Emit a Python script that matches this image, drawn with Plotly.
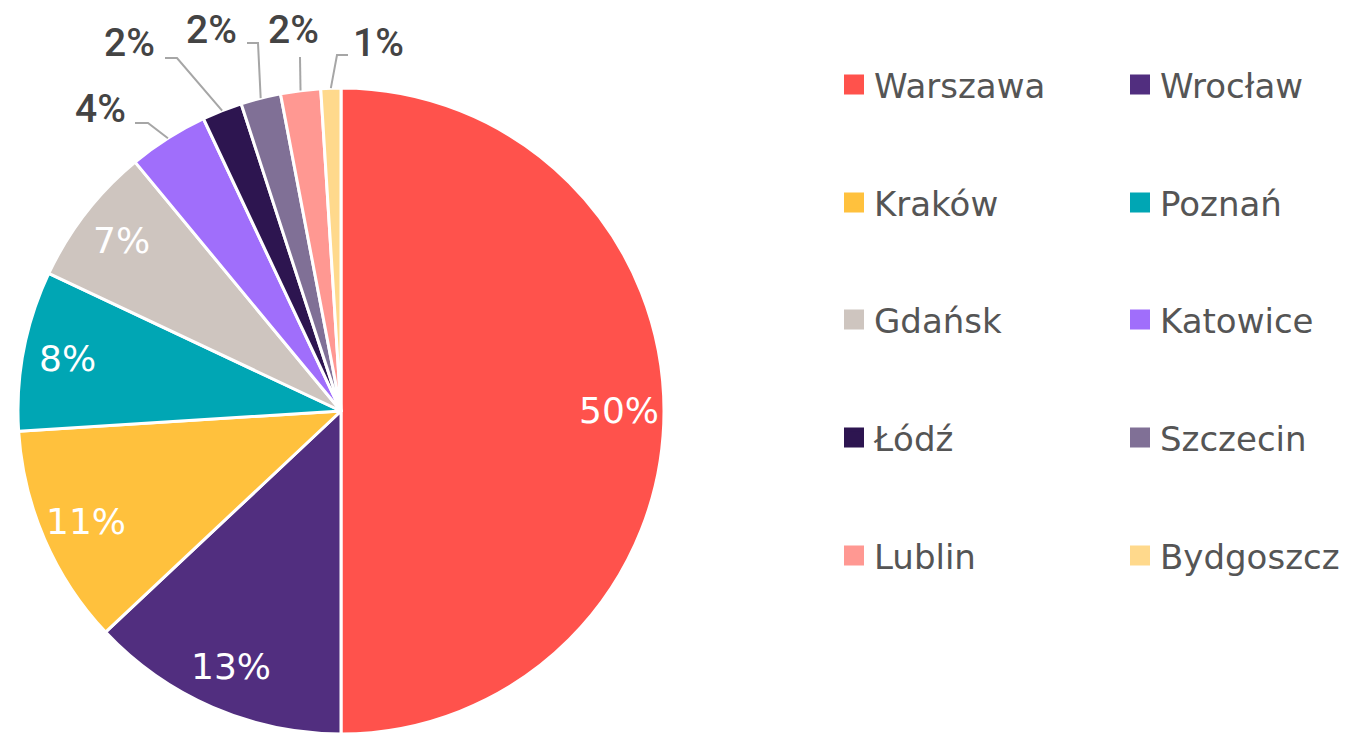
import math
import plotly.graph_objects as go

# ---- data ----
cities = ["Warszawa", "Wrocław", "Kraków", "Poznań", "Gdańsk",
          "Katowice", "Łódź", "Szczecin", "Lublin", "Bydgoszcz"]
shares = [50, 13, 11, 8, 7, 4, 2, 2, 2, 1]
colors = ["#FF524C", "#512E7F", "#FFC13D", "#00A6B4", "#CEC5BF",
          "#A06EFB", "#2D1550", "#807096", "#FF9892", "#FFD98C"]

# ---- layout constants (page pixel coordinates) ----
W, H = 1348, 734
PAGE_OFF = 8  # default body margin of the html page
PIE_LEFT, PIE_TOP, PIE_SIZE = 18, 88, 646
CX = PIE_LEFT + PIE_SIZE / 2
CY = PIE_TOP + PIE_SIZE / 2
R = PIE_SIZE / 2
INSIDE_R = R - 45
INSIDE_MIN = 5  # slices below this share get outside labels

# outside label placement (page pixel positions of connector elbow, end, and text anchor)
outside_layout = {
    "Katowice": dict(elbow=(148, 123), end=(135, 123), text=(128, 109), side="right"),
    "Łódź": dict(elbow=(177, 58), end=(165, 58), text=(157, 43), side="right"),
    "Szczecin": dict(elbow=(258, 43), end=(247, 43), text=(239, 30), side="right"),
    "Lublin": dict(elbow=(300, 57), end=(300, 57), text=(293, 30), side="center"),
    "Bydgoszcz": dict(elbow=(337, 55), end=(348, 55), text=(351, 43), side="left"),
}
legend_rows_y = [86, 204, 321, 439, 557]
legend_cols_x = [834, 1120]
LEGEND_Y_FIX = -1


def px(x):
    return (x - PAGE_OFF) / W


def py(y):
    return 1 - (y - PAGE_OFF) / H


fig = go.Figure()
fig.add_trace(go.Pie(
    labels=cities, values=shares, sort=False, direction="clockwise", rotation=0,
    marker=dict(colors=colors, line=dict(color="white", width=3)),
    textinfo="none", showlegend=False,
    domain=dict(x=[px(PIE_LEFT), px(PIE_LEFT + PIE_SIZE)],
                y=[py(PIE_TOP + PIE_SIZE), py(PIE_TOP)]),
))

total = sum(shares)
annotations = []
shapes = []
cum = 0
for city, v in zip(cities, shares):
    mid = (cum + v / 2) / total * 2 * math.pi
    cum += v
    s, c = math.sin(mid), math.cos(mid)
    label = f"{round(v / total * 100)}%"
    if v >= INSIDE_MIN:
        x = CX + INSIDE_R * s
        y = CY - INSIDE_R * c
        annotations.append(dict(
            x=px(x), y=py(y), xref="paper", yref="paper", text=label, showarrow=False,
            xanchor="center", yanchor="middle",
            font=dict(family="DejaVu Sans", size=36, color="white")))
    else:
        lay = outside_layout[city]
        ex, ey = CX + R * s, CY - R * c
        (bx, by), (nx, ny) = lay["elbow"], lay["end"]
        path = f"M {px(ex)} {py(ey)} L {px(bx)} {py(by)} L {px(nx)} {py(ny)}"
        shapes.append(dict(type="path", xref="paper", yref="paper", path=path,
                           line=dict(color="#A6A6A6", width=2)))
        tx, ty = lay["text"]
        annotations.append(dict(
            x=px(tx), y=py(ty), xref="paper", yref="paper", text=label, showarrow=False,
            xanchor=lay["side"], yanchor="middle",
            font=dict(family="Roboto", size=39, color="#444444", weight=500)))

# legend: one dummy marker trace per city, each in its own legend box
legend_layouts = {}
for i, (city, col) in enumerate(zip(cities, colors)):
    row, colidx = i // 2, i % 2
    key = "legend" if i == 0 else f"legend{i + 1}"
    fig.add_trace(go.Scatter(
        x=[None], y=[None], mode="markers", name=city, legend=key,
        marker=dict(symbol="square", size=16, color=col, line=dict(color=col, width=4)),
        showlegend=True, hoverinfo="skip"))
    legend_layouts[key] = dict(
        orientation="v", x=px(legend_cols_x[colidx]), xanchor="left",
        y=py(legend_rows_y[row] + LEGEND_Y_FIX), yanchor="middle",
        font=dict(family="DejaVu Sans", size=34, color="#555555"),
        bgcolor="rgba(0,0,0,0)", itemclick=False, itemdoubleclick=False)

fig.update_layout(
    width=W, height=H, margin=dict(l=0, r=0, t=0, b=0, autoexpand=False),
    paper_bgcolor="white", plot_bgcolor="white",
    xaxis=dict(visible=False), yaxis=dict(visible=False),
    annotations=annotations, shapes=shapes,
    **legend_layouts,
)

fig.write_html("out.html")
